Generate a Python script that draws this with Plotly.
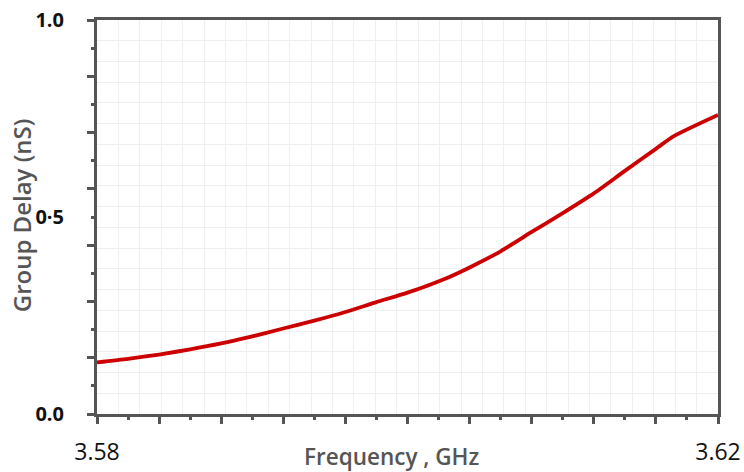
import plotly.graph_objects as go

# Data
freq = [3.5800, 3.5820, 3.5840, 3.5860, 3.5880, 3.5898, 3.5920, 3.5940, 3.5960,
        3.5980, 3.6000, 3.6027, 3.6040, 3.6060, 3.6080, 3.6100, 3.6120, 3.6140,
        3.6160, 3.6171, 3.6200]
delay = [0.131, 0.140, 0.151, 0.164, 0.179, 0.195, 0.217, 0.237, 0.259,
         0.284, 0.308, 0.348, 0.372, 0.413, 0.462, 0.510, 0.560, 0.617,
         0.673, 0.704, 0.759]

x_label_vals = [3.58, 3.62]
x_label_text = ["3.58", "3.62"]
y_label_vals = [0.0, 0.5, 1.0]
y_label_text = ["0.0", "0·5", "1.0"]

X0, X1 = 3.58, 3.62
Y0, Y1 = 0.0, 1.0
x_major = [X0 + (X1 - X0) * i / 10 for i in range(11)]
x_minor = [X0 + (X1 - X0) * (i + 0.5) / 10 for i in range(10)]
y_major = [Y0 + (Y1 - Y0) * i / 7 for i in range(8)]
y_minor = [Y0 + (Y1 - Y0) * (i + 0.5) / 7 for i in range(7)]
x_grid = [X0 + (X1 - X0) * i / 29 for i in range(1, 29)]
y_grid = [Y0 + (Y1 - Y0) * i / 19 for i in range(1, 19)]

AX = "#555555"
FONT = "Open Sans"

fig = go.Figure()
fig.add_trace(go.Scatter(x=freq, y=delay, mode="lines",
                         line=dict(color="#cc0000", width=3.8, shape="spline", smoothing=0.6),
                         showlegend=False, hoverinfo="skip"))
# invisible trace to carry the tick-mark axes
fig.add_trace(go.Scatter(x=[freq[0]], y=[delay[0]], xaxis="x2", yaxis="y2",
                         mode="lines", opacity=0, showlegend=False, hoverinfo="skip"))

fig.update_layout(
    width=744, height=472,
    margin=dict(l=97, r=26, t=20, b=58),
    paper_bgcolor="white", plot_bgcolor="white",
    font=dict(family=FONT, color="#111111"),
    xaxis=dict(range=[X0, X1], showline=True, linewidth=3, linecolor=AX, mirror=True,
               automargin=False,
               tickmode="array", tickvals=x_label_vals, ticktext=x_label_text,
               ticks="", showgrid=False, zeroline=False,
               tickfont=dict(family=FONT, size=23, color="#111111", weight=500),
               ticklabelstandoff=15,
               minor=dict(tickmode="array", tickvals=x_grid, ticks="",
                          showgrid=True, gridcolor="#efefef", gridwidth=1)),
    yaxis=dict(range=[Y0, Y1], showline=True, linewidth=3, linecolor=AX, mirror=True,
               automargin=False,
               tickmode="array", tickvals=y_label_vals, ticktext=y_label_text,
               ticks="", showgrid=False, zeroline=False,
               tickfont=dict(family=FONT, size=20, color="#111111", weight=700),
               ticklabelstandoff=26,
               minor=dict(tickmode="array", tickvals=y_grid, ticks="",
                          showgrid=True, gridcolor="#efefef", gridwidth=1)),
    xaxis2=dict(range=[X0, X1], overlaying="x", anchor="y2", side="bottom",
                automargin=False,
                showline=False, showgrid=False, zeroline=False, showticklabels=False,
                tickmode="array", tickvals=x_major, ticks="outside", ticklen=9,
                tickwidth=3, tickcolor=AX,
                minor=dict(tickmode="array", tickvals=x_minor, ticks="outside",
                           ticklen=5, tickwidth=3, tickcolor=AX, showgrid=False)),
    yaxis2=dict(range=[Y0, Y1], overlaying="y", anchor="x2", side="left",
                automargin=False,
                showline=False, showgrid=False, zeroline=False, showticklabels=False,
                tickmode="array", tickvals=y_major, ticks="outside", ticklen=9,
                tickwidth=3, tickcolor=AX,
                minor=dict(tickmode="array", tickvals=y_minor, ticks="outside",
                           ticklen=5, tickwidth=3, tickcolor=AX, showgrid=False)),
    annotations=[
        dict(text="Frequency , GHz", xref="paper", yref="paper", x=0.475, y=-0.107,
             xanchor="center", yanchor="middle", showarrow=False,
             font=dict(family=FONT, size=22.5, color=AX, weight=600)),
        dict(text="Group Delay (nS)", xref="paper", yref="paper", x=-0.122, y=0.505,
             xanchor="center", yanchor="middle", showarrow=False, textangle=-90,
             font=dict(family=FONT, size=24, color=AX, weight=600)),
    ],
)

fig.write_html("out.html", config={"displayModeBar": False},
               post_script="document.body.style.margin='0';")
